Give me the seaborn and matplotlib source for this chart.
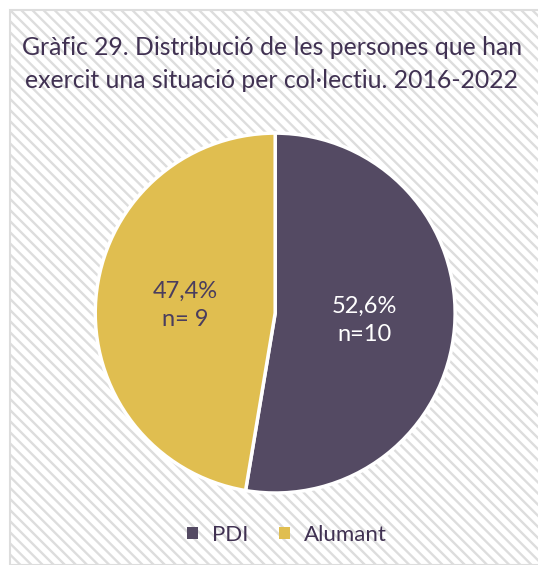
import matplotlib
matplotlib.use("Agg")
import matplotlib.pyplot as plt
import seaborn as sns
from matplotlib.patches import Rectangle, Patch

categories = ["PDI", "Alumant"]
values = [10, 9]
pct_labels = ["52,6%\nn=10", "47,4%\nn= 9"]
title = "Gràfic 29. Distribució de les persones que han\nexercit una situació per col·lectiu. 2016-2022"

colors = ["#544A63", "#E0BE50"]
label_colors = ["white", "#4A3D5E"]
title_color = "#403152"

sns.set_theme(style="white")
plt.rcParams["font.family"] = ["Lato", "DejaVu Sans"]
plt.rcParams["hatch.color"] = "#E3E3E3"
plt.rcParams["hatch.linewidth"] = 1.7

fig = plt.figure(figsize=(5.38, 5.65), dpi=100)
fig.patch.set_facecolor("white")

bg = Rectangle((10/538, 0), 1, 1 - 10/565, transform=fig.transFigure,
               facecolor="white", edgecolor="#DDDDDD", hatch="\\\\\\",
               linewidth=1.5, zorder=-10)
fig.patches.append(bg)

ax = fig.add_axes([0.177, 0.1274, 0.669, 0.637])
ax.set_zorder(5)
ax.set_facecolor("none")
wedges, texts = ax.pie(values, colors=colors, startangle=90, counterclock=False,
                       radius=1, labels=pct_labels, labeldistance=0.5,
                       wedgeprops=dict(edgecolor="white", linewidth=2.5),
                       textprops=dict(fontsize=17, ha="center", va="center",
                                      linespacing=1.45))
for t, c in zip(texts, label_colors):
    t.set_color(c)
ax.set_xlim(-1, 1)
ax.set_ylim(-1, 1)
ax.set_aspect("equal")
ax.axis("off")

fig.text(0.505, 1 - 64/565, title, ha="center", va="center", fontsize=17.8,
         color=title_color, linespacing=1.55, zorder=6)

handles = [Patch(facecolor=c, edgecolor="none") for c in colors]
leg = fig.legend(handles, categories, loc="center", bbox_to_anchor=(0.533, 1 - 535/565),
                 ncol=2, frameon=False, fontsize=16, handlelength=0.5, handleheight=0.5,
                 handletextpad=0.6, columnspacing=1.4)
leg.set_zorder(6)
for t in leg.get_texts():
    t.set_color(title_color)

fig.savefig("out.png", dpi=100)
